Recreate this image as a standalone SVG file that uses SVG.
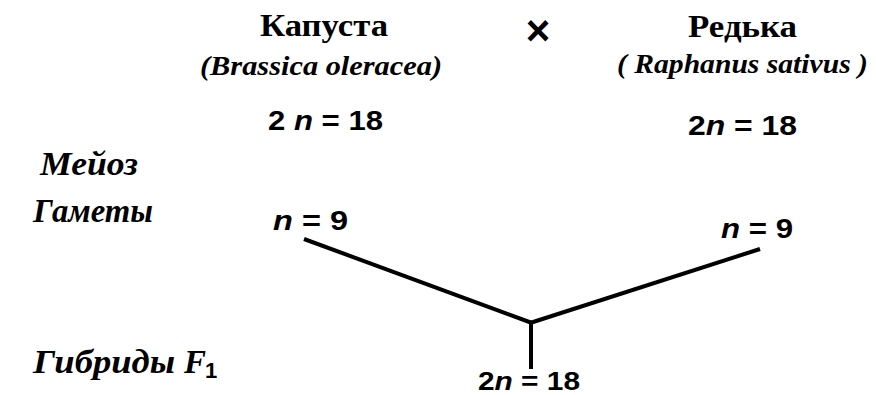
<svg xmlns="http://www.w3.org/2000/svg" width="876" height="395" viewBox="0 0 876 395">
<style>
.title{font-family:"Liberation Serif",serif;font-weight:bold;font-size:32px;fill:#000}
.latin{font-family:"Liberation Serif",serif;font-weight:bold;font-style:italic;font-size:27px;fill:#000}
.label{font-family:"Liberation Serif",serif;font-weight:bold;font-style:italic;font-size:33px;fill:#000}
.num{font-family:"Liberation Sans",Arial,sans-serif;font-weight:bold;font-size:28px;fill:#000}
.it{font-style:italic}
.conn{stroke:#000;stroke-width:4;fill:none;stroke-linecap:butt}
</style>
<rect width="876" height="395" fill="#fff"/>
<g id="cabbage">
<text class="title" x="260" y="36" textLength="128" lengthAdjust="spacingAndGlyphs">Капуста</text>
<text class="latin" x="200" y="75" textLength="242" lengthAdjust="spacingAndGlyphs">(Brassica oleracea)</text>
<text class="num" x="268" y="130" textLength="115" lengthAdjust="spacingAndGlyphs">2 <tspan class="it">n</tspan> = 18</text>
</g>
<g id="cross">
<text class="num" x="538" y="45" text-anchor="middle" style="font-size:42px">×</text>
</g>
<g id="radish">
<text class="title" x="688" y="37" textLength="109" lengthAdjust="spacingAndGlyphs">Редька</text>
<text class="latin" x="617" y="73" textLength="251" lengthAdjust="spacingAndGlyphs">( Raphanus sativus )</text>
<text class="num" x="688" y="135" textLength="109" lengthAdjust="spacingAndGlyphs">2<tspan class="it">n</tspan> = 18</text>
</g>
<g id="row-labels">
<text class="label" x="40" y="175" textLength="98" lengthAdjust="spacingAndGlyphs">Мейоз</text>
<text class="label" x="33" y="222" textLength="120" lengthAdjust="spacingAndGlyphs">Гаметы</text>
<text class="label" x="33" y="373" textLength="142" lengthAdjust="spacingAndGlyphs">Гибриды</text>
<text class="label" x="184" y="373">F</text>
<text class="num" x="205" y="378" style="font-size:22px">1</text>
</g>
<g id="gamete-left">
<text class="num" x="273" y="230" textLength="75" lengthAdjust="spacingAndGlyphs"><tspan class="it">n</tspan> = 9</text>
</g>
<g id="gamete-right">
<text class="num" x="721" y="238" textLength="72" lengthAdjust="spacingAndGlyphs"><tspan class="it">n</tspan> = 9</text>
</g>
<g id="hybrid">
<text class="num" x="478" y="390" style="font-size:26px" textLength="102" lengthAdjust="spacingAndGlyphs">2<tspan class="it">n</tspan> = 18</text>
</g>
<g id="connectors">
<line class="conn" x1="304" y1="239" x2="532" y2="323"/>
<line class="conn" x1="760" y1="249" x2="530" y2="323"/>
<line class="conn" x1="531" y1="322" x2="531" y2="369"/>
</g>
</svg>
